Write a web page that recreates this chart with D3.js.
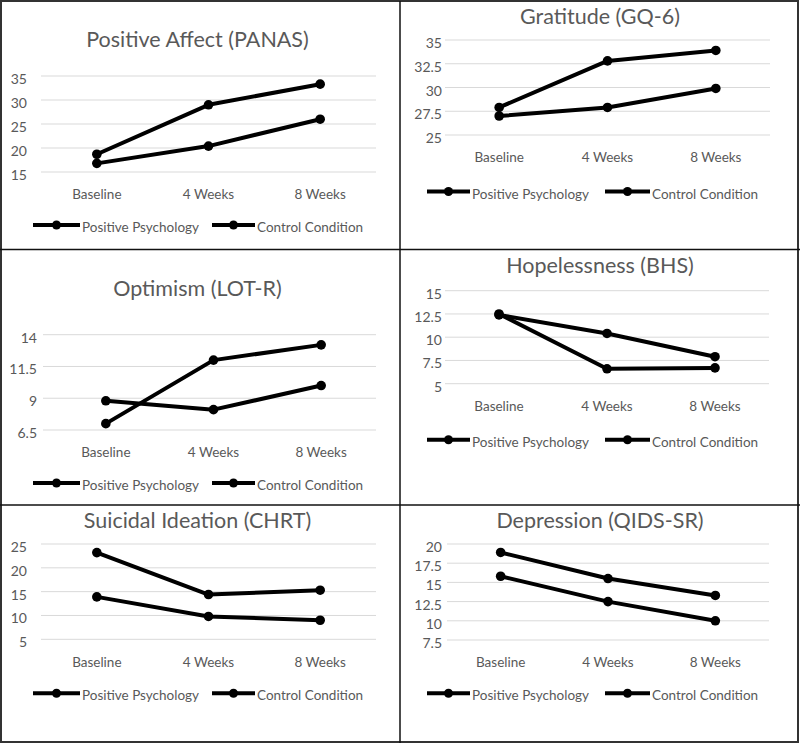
<!DOCTYPE html>
<html><head><meta charset="utf-8">
<script src="https://cdn.jsdelivr.net/npm/d3@7"></script>
<style>
body{margin:0;background:#fff}
svg text{font-family:Lato,"Open Sans",sans-serif;fill:#595959}
</style>
</head><body>
<svg id="chart" width="800" height="744"></svg>
<script>
// ---- data ----
const categories = ["Baseline", "4 Weeks", "8 Weeks"];
const seriesNames = ["Positive Psychology", "Control Condition"];
const titles = ["Positive Affect (PANAS)", "Gratitude (GQ-6)", "Optimism (LOT-R)",
                "Hopelessness (BHS)", "Suicidal Ideation (CHRT)", "Depression (QIDS-SR)"];

const panasPP = [18.7, 29.0, 33.3];
const panasCC = [16.8, 20.4, 26.0];
const gratitudePP = [27.9, 32.8, 33.9];
const gratitudeCC = [27.0, 27.9, 29.9];
const optimismPP = [7.0, 12.0, 13.2];
const optimismCC = [8.8, 8.1, 10.0];
const hopelessPP = [12.5, 6.6, 6.7];
const hopelessCC = [12.4, 10.4, 7.9];
const suicidalPP = [23.2, 14.4, 15.3];
const suicidalCC = [13.9, 9.8, 9.0];
const depressionPP = [18.9, 15.5, 13.3];
const depressionCC = [15.8, 12.5, 10.0];

const ticksPanas = [15, 20, 25, 30, 35];
const ticksGratitude = [25, 27.5, 30, 32.5, 35];
const ticksOptimism = [6.5, 9, 11.5, 14];
const ticksHopeless = [5, 7.5, 10, 12.5, 15];
const ticksSuicidal = [5, 10, 15, 20, 25];
const ticksDepression = [7.5, 10, 12.5, 15, 17.5, 20];

// ---- layout ----
const panels = [
  {title: titles[0], pp: panasPP, cc: panasCC, ticks: ticksPanas,
   titleX: 197.5, titleY: 46.7, gx: [41, 376], bx: [41, 376], y: [172, 76],
   tickRight: 27, catY: 199, legY: 225, leg: [33, 80, 212, 255]},
  {title: titles[1], pp: gratitudePP, cc: gratitudeCC, ticks: ticksGratitude,
   titleX: 600, titleY: 24, gx: [445, 770], bx: [445, 770], y: [135, 40],
   tickRight: 442, catY: 162, legY: 191.5, leg: [427, 470, 605, 650]},
  {title: titles[2], pp: optimismPP, cc: optimismCC, ticks: ticksOptimism,
   titleX: 197.5, titleY: 296.3, gx: [43, 376], bx: [52, 375], y: [430, 334.7],
   tickRight: 37, catY: 457.3, legY: 483, leg: [33, 80, 212, 255]},
  {title: titles[3], pp: hopelessPP, cc: hopelessCC, ticks: ticksHopeless,
   titleX: 600, titleY: 273, gx: [445, 769], bx: [445, 769], y: [383.7, 290.7],
   tickRight: 442, catY: 410.7, legY: 439.7, leg: [427, 470, 605, 650]},
  {title: titles[4], pp: suicidalPP, cc: suicidalCC, ticks: ticksSuicidal,
   titleX: 197.5, titleY: 528.3, gx: [41, 376], bx: [41, 376], y: [639.3, 544],
   tickRight: 27, catY: 666.7, legY: 693.3, leg: [33, 80, 212, 255]},
  {title: titles[5], pp: depressionPP, cc: depressionCC, ticks: ticksDepression,
   titleX: 600, titleY: 528.3, gx: [447, 769], bx: [447, 769], y: [640, 544],
   tickRight: 442, catY: 666.7, legY: 693.3, leg: [427, 470, 605, 650]}
];

const svg = d3.select("#chart");
svg.append("rect").attr("width", 800).attr("height", 744).attr("fill", "#fff");

panels.forEach(p => {
  const g = svg.append("g");
  const ticks = p.ticks;
  const y = d3.scaleLinear().domain([ticks[0], ticks[ticks.length - 1]]).range(p.y);
  const x = d3.scaleBand().domain(categories).range(p.bx);
  const cx = c => x(c) + x.bandwidth() / 2;

  g.append("text").attr("x", p.titleX).attr("y", p.titleY)
    .attr("text-anchor", "middle").style("font-size", "21.5px").text(p.title);

  // gridlines
  g.selectAll("line.grid").data(ticks).join("line")
    .attr("x1", p.gx[0]).attr("x2", p.gx[1])
    .attr("y1", d => y(d)).attr("y2", d => y(d))
    .attr("stroke", "#d9d9d9").attr("stroke-width", 1);

  // tick labels
  g.selectAll("text.tick").data(ticks).join("text")
    .attr("x", p.tickRight).attr("y", d => y(d) + 8)
    .attr("text-anchor", "end").style("font-size", "14px")
    .text(d => d3.format("")(d));

  // category labels
  g.selectAll("text.cat").data(categories).join("text")
    .attr("x", d => cx(d)).attr("y", p.catY)
    .attr("text-anchor", "middle").style("font-size", "13.5px").text(d => d);

  const line = d3.line().x((d, i) => cx(categories[i])).y(d => y(d));
  [p.pp, p.cc].forEach(vals => {
    g.append("path").datum(vals).attr("d", line)
      .attr("fill", "none").attr("stroke", "#000").attr("stroke-width", 4)
      .attr("stroke-linejoin", "round");
    g.selectAll(null).data(vals).join("circle")
      .attr("cx", (d, i) => cx(categories[i])).attr("cy", d => y(d))
      .attr("r", 4.8).attr("fill", "#000");
  });

  // legend
  seriesNames.forEach((name, k) => {
    const x0 = p.leg[k * 2], x1 = p.leg[k * 2 + 1];
    g.append("line").attr("x1", x0).attr("x2", x1)
      .attr("y1", p.legY).attr("y2", p.legY)
      .attr("stroke", "#000").attr("stroke-width", 4);
    g.append("circle").attr("cx", (x0 + x1) / 2).attr("cy", p.legY)
      .attr("r", 4.5).attr("fill", "#000");
    g.append("text").attr("x", x1 + 2).attr("y", p.legY + 7)
      .style("font-size", "13.5px").text(name);
  });
});

// panel borders
svg.append("rect").attr("x", 1).attr("y", 1).attr("width", 797).attr("height", 741)
  .attr("fill", "none").attr("stroke", "#333").attr("stroke-width", 2);
svg.append("line").attr("x1", 400).attr("x2", 400).attr("y1", 1).attr("y2", 743)
  .attr("stroke", "#111").attr("stroke-width", 1.5);
svg.append("line").attr("x1", 0).attr("x2", 800).attr("y1", 249.5).attr("y2", 249.5)
  .attr("stroke", "#111").attr("stroke-width", 1.5);
svg.append("line").attr("x1", 0).attr("x2", 800).attr("y1", 505).attr("y2", 505)
  .attr("stroke", "#111").attr("stroke-width", 1.5);
</script>
</body></html>
